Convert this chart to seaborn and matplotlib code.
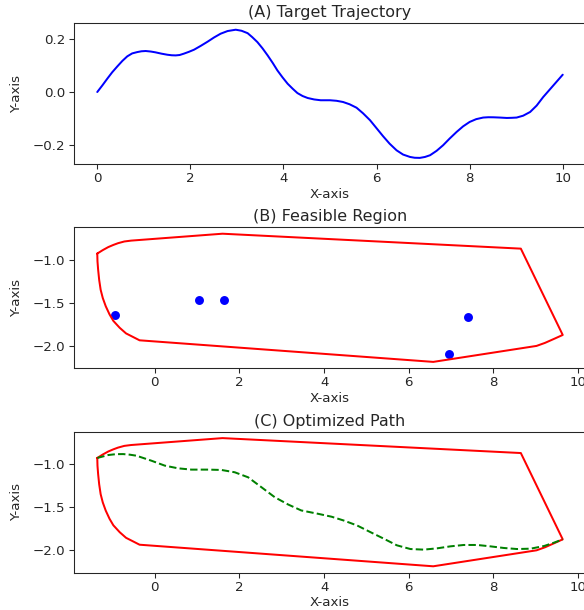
import matplotlib
matplotlib.use("Agg")
import matplotlib.pyplot as plt
import seaborn as sns
import pandas as pd

# (A) target trajectory
traj_x = [0.0, 0.11, 0.215, 0.32, 0.43, 0.54, 0.645, 0.75, 0.86, 0.95, 1.04, 1.15, 1.25, 1.38,
          1.505, 1.60, 1.685, 1.77, 1.86, 1.97, 2.08, 2.22, 2.37, 2.51, 2.65, 2.80,
          2.975, 3.10, 3.23, 3.33, 3.44, 3.55, 3.66, 3.77, 3.87, 3.98, 4.09, 4.20, 4.30,
          4.41, 4.52, 4.66, 4.80, 5.0, 5.14, 5.28, 5.42, 5.57, 5.71, 5.86, 6.00, 6.14,
          6.28, 6.43, 6.57, 6.72, 6.82, 6.93, 7.04, 7.15, 7.29, 7.43, 7.57, 7.72, 7.86,
          8.0, 8.14, 8.29, 8.40, 8.51, 8.65, 8.80, 8.90, 9.01, 9.15, 9.30, 9.44, 9.58,
          9.69, 9.80, 9.90, 10.0]
traj_y = [0.0, 0.025, 0.05, 0.074, 0.096, 0.117, 0.134, 0.145, 0.15, 0.153, 0.154, 0.152, 0.149, 0.144,
          0.14, 0.138, 0.1375, 0.139, 0.144, 0.151, 0.159, 0.173, 0.189, 0.205, 0.219, 0.229,
          0.234, 0.230, 0.221, 0.206, 0.1875, 0.164, 0.1375, 0.109, 0.081, 0.055, 0.031, 0.012, -0.004,
          -0.015, -0.0225, -0.028, -0.031, -0.031, -0.033, -0.0375, -0.046, -0.059, -0.080, -0.106, -0.136, -0.166,
          -0.194, -0.219, -0.235, -0.244, -0.247, -0.2475, -0.244, -0.2375, -0.221, -0.2, -0.175, -0.15, -0.129,
          -0.1125, -0.102, -0.096, -0.0948, -0.095, -0.096, -0.0975, -0.097, -0.096, -0.089, -0.075, -0.051, -0.019,
          0.003, 0.025, 0.045, 0.065]

# Feasible region boundary (closed)
region_x = [-1.36, -1.23, -1.10, -0.98, -0.87, -0.72, -0.56, 1.60, 8.65, 9.64, 9.45, 9.22,
            9.02, 6.58, -0.36, -0.52, -0.68, -0.83, -0.98, -1.07, -1.16, -1.23, -1.28,
            -1.315, -1.34, -1.355, -1.36]
region_y = [-0.93, -0.89, -0.855, -0.83, -0.81, -0.79, -0.78, -0.70, -0.873, -1.873, -1.915, -1.965,
            -2.0, -2.185, -1.935, -1.895, -1.855, -1.79, -1.71, -1.635, -1.54, -1.445, -1.35,
            -1.235, -1.115, -1.02, -0.93]

# Points in (B)
pts_x = [-0.93, 1.05, 1.63, 7.39, 6.95]
pts_y = [-1.642, -1.469, -1.469, -1.665, -2.096]

# Optimized path (C)
path_x = [-1.36, -1.10, -0.92, -0.748, -0.59, -0.433, -0.079, 0.236, 0.55, 0.866, 1.26, 1.575, 1.89,
          2.205, 2.52, 2.835, 3.15, 3.46, 3.86, 4.18, 4.46, 4.78, 5.09, 5.41, 5.72,
          6.04, 6.355, 6.67, 6.985, 7.30, 7.62, 7.93, 8.25, 8.56, 8.88, 9.20, 9.43, 9.64]
path_y = [-0.93, -0.896, -0.886, -0.885, -0.892, -0.904, -0.962, -1.019, -1.05, -1.065, -1.065, -1.069, -1.096,
          -1.154, -1.269, -1.385, -1.469, -1.538, -1.577, -1.611, -1.654, -1.712, -1.788, -1.865, -1.942,
          -1.985, -1.992, -1.977, -1.954, -1.938, -1.938, -1.954, -1.973, -1.985, -1.981, -1.95, -1.912, -1.873]

sns.set_style("ticks")
plt.rcParams["font.family"] = ["DejaVu Sans"]
plt.rcParams["xtick.major.pad"] = 2.5
plt.rcParams["ytick.major.pad"] = 3.0
plt.rcParams["axes.labelpad"] = 2.0
plt.rcParams["axes.titlepad"] = 4.5

dpi = 96
fig = plt.figure(figsize=(584 / dpi, 610 / dpi), dpi=dpi)
left, width, height = 74 / 584, (586 - 74) / 584, 141 / 610
bottoms = [1 - 164.3 / 610, 1 - 368.3 / 610, 1 - 572.7 / 610]
axes = [fig.add_axes([left, b, width, height]) for b in bottoms]

df_traj = pd.DataFrame({"x": traj_x, "y": traj_y})
df_reg = pd.DataFrame({"x": region_x, "y": region_y})
df_pts = pd.DataFrame({"x": pts_x, "y": pts_y})
df_path = pd.DataFrame({"x": path_x, "y": path_y})

ax = axes[0]
sns.lineplot(data=df_traj, x="x", y="y", ax=ax, color="blue", linewidth=1.5,
             sort=False, estimator=None)
ax.set_title("(A) Target Trajectory")

ax = axes[1]
sns.lineplot(data=df_reg, x="x", y="y", ax=ax, color="red", linewidth=1.5,
             sort=False, estimator=None)
sns.scatterplot(data=df_pts, x="x", y="y", ax=ax, color="blue", s=45, linewidth=0)
ax.set_title("(B) Feasible Region")

ax = axes[2]
sns.lineplot(data=df_reg, x="x", y="y", ax=ax, color="red", linewidth=1.5,
             sort=False, estimator=None)
sns.lineplot(data=df_path, x="x", y="y", ax=ax, color="green", linewidth=1.5,
             linestyle="--", sort=False, estimator=None)
ax.set_title("(C) Optimized Path")

for ax in axes:
    ax.set_xlabel("X-axis")
    ax.set_ylabel("Y-axis", labelpad=7)

fig.savefig("out.png", dpi=dpi)
